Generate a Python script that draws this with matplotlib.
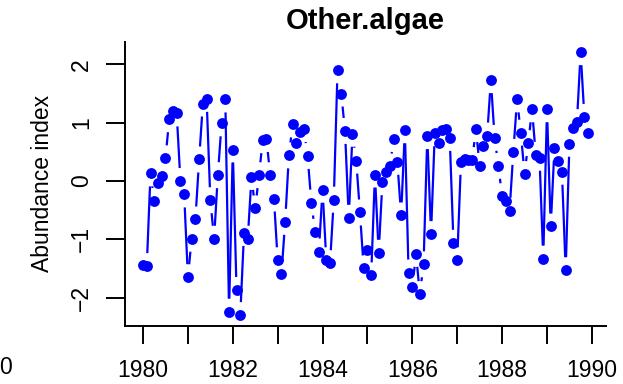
import numpy as np
import matplotlib
matplotlib.use("Agg")
import matplotlib.pyplot as plt
from matplotlib.collections import LineCollection

plt.rcParams['font.family'] = ['Liberation Sans', 'DejaVu Sans']

# monthly abundance index, Jan 1980 .. Dec 1989
start_year = 1980
abundance = [
    -1.44, -1.46, 0.13, -0.34, -0.04, 0.09, 0.39, 1.06, 1.21, 1.16, 0.00, -0.23,
    -1.65, -0.99, -0.66, 0.37, 1.33, 1.41, -0.33, -0.99, 0.10, 0.99, 1.40, -2.24,
    0.54, -1.87, -2.30, -0.89, -0.99, 0.07, -0.47, 0.10, 0.70, 0.72, 0.10, -0.30,
    -1.36, -1.60, -0.70, 0.44, 0.97, 0.66, 0.84, 0.89, 0.43, -0.37, -0.87, -1.21,
    -0.15, -1.36, -1.41, -0.32, 1.90, 1.50, 0.86, -0.63, 0.81, 0.35, -0.54, -1.50,
    -1.18, -1.62, 0.11, -1.23, -0.02, 0.16, 0.25, 0.72, 0.33, -0.59, 0.87, -1.57,
    -1.82, -1.25, -1.94, -1.43, 0.77, -0.91, 0.82, 0.65, 0.87, 0.90, 0.74, -1.06,
    -1.36, 0.33, 0.38, 0.36, 0.36, 0.89, 0.26, 0.60, 0.78, 1.73, 0.74, 0.26,
    -0.26, -0.34, -0.51, 0.50, 1.40, 0.83, 0.12, 0.65, 1.23, 0.45, 0.40, -1.33,
    1.23, -0.78, 0.57, 0.35, 0.16, -1.53, 0.64, 0.91, 1.01, 2.21, 1.10, 0.82,
]
year_ticks = list(range(1980, 1991))
y_ticks = [-2, -1, 0, 1, 2]

t = start_year + np.arange(len(abundance)) / 12.0
y = np.array(abundance)

fig = plt.figure(figsize=(6.23, 3.84), dpi=100)
ax = fig.add_axes([0.2010, 0.1521, 0.7716, 0.7393])

# R-style 4% padding around the data range
xr = t.max() - t.min()
yr = y.max() - y.min()
ax.set_xlim(t.min() - 0.04 * xr, t.max() + 0.04 * xr)
ax.set_ylim(y.min() - 0.04 * yr, y.max() + 0.04 * yr)

# type="b": segments broken around each point
gap = 13.0  # pixels
pix = ax.transData.transform(np.column_stack([t, y]))
inv = ax.transData.inverted()
segs = []
for p0, p1 in zip(pix[:-1], pix[1:]):
    d = np.hypot(*(p1 - p0))
    if d <= 2 * gap:
        continue
    u = (p1 - p0) / d
    a = inv.transform(p0 + u * gap)
    b = inv.transform(p1 - u * gap)
    segs.append([a, b])
ax.add_collection(LineCollection(segs, colors="#0000ff", linewidths=1.6,
                                 capstyle="butt"))
ax.plot(t, y, "o", color="#0000ff", ms=7.8, mew=0, zorder=3)

for s in ["top", "right"]:
    ax.spines[s].set_visible(False)
for s in ["left", "bottom"]:
    ax.spines[s].set_linewidth(1.4)

ax.set_xticks(year_ticks)
ax.set_xticklabels([str(v) if v % 2 == 0 else "" for v in year_ticks])
ax.set_yticks(y_ticks)
ax.set_yticklabels([str(v).replace("-", "\u2212") for v in y_ticks],
                   rotation=90, va="center")
ax.tick_params(axis="x", length=13, width=1.4, labelsize=16.5, pad=11)
ax.tick_params(axis="y", length=14, width=1.4, labelsize=16.5, pad=9)

ax.set_ylabel("Abundance index", fontsize=16.5, labelpad=12)
ax.set_title("Other.algae", fontsize=21, fontweight="bold", pad=9)

fig.text(5.5 / 623, 1 - 368 / 384, "0", fontsize=16.5, ha="center", va="center")

fig.savefig("out.png", dpi=100)
